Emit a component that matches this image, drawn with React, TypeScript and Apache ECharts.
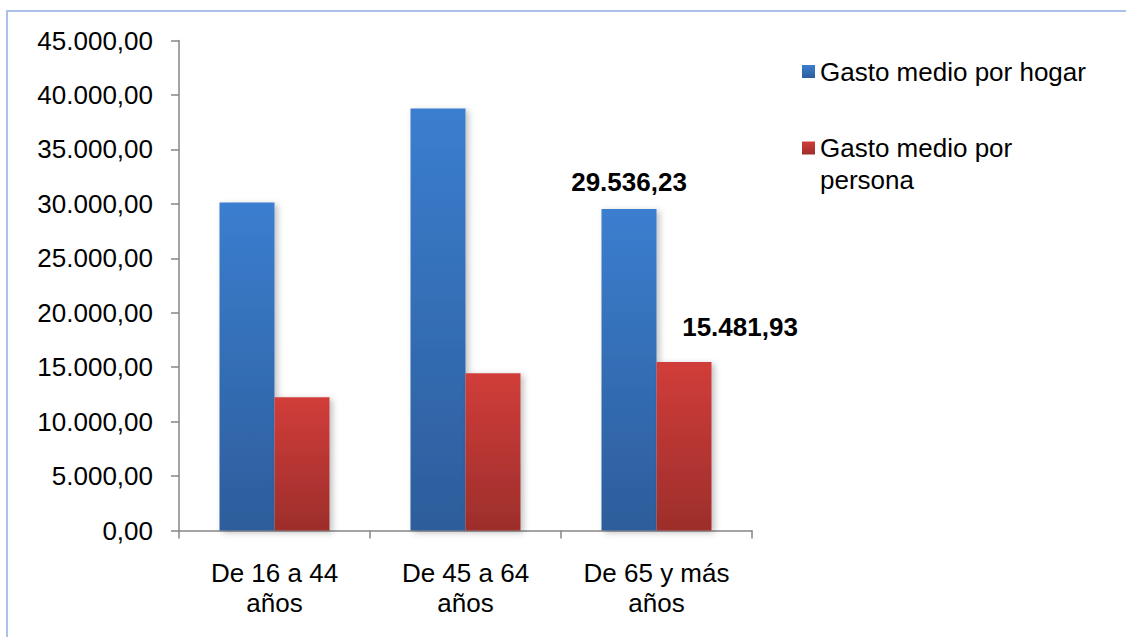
import React, { useEffect, useRef } from "react";
import * as echarts from "echarts";

const categories = ["De 16 a 44\naños", "De 45 a 64\naños", "De 65 y más\naños"];
const seriesNames = ["Gasto medio por hogar", "Gasto medio por persona"];
const hogarValues = [30130, 38750, 29536.23];
const personaValues = [12230, 14430, 15481.93];
const labeledIndex = 2;
const yMin = 0;
const yMax = 45000;
const yInterval = 5000;

const FONT = "'Liberation Sans', Arial, sans-serif";

function fmtEs(v: number): string {
  const fixed = Math.abs(v).toFixed(2);
  const [ip, dp] = fixed.split(".");
  const withDots = ip.replace(/\B(?=(\d{3})+(?!\d))/g, ".");
  return (v < 0 ? "-" : "") + withDots + "," + dp;
}

const blueGrad = () =>
  new echarts.graphic.LinearGradient(0, 0, 0, 1, [
    { offset: 0, color: "#3b7ecf" },
    { offset: 1, color: "#2d5d9b" },
  ]);
const redGrad = () =>
  new echarts.graphic.LinearGradient(0, 0, 0, 1, [
    { offset: 0, color: "#d13d3a" },
    { offset: 1, color: "#9d2e2b" },
  ]);

export default function App() {
  const ref = useRef<HTMLDivElement>(null);
  useEffect(() => {
    if (!ref.current) return;
    const chart = echarts.init(ref.current, undefined, { renderer: "svg" });
    const shadow = {
      shadowBlur: 6,
      shadowColor: "rgba(0,0,0,0.25)",
      shadowOffsetX: 3,
      shadowOffsetY: 2,
    };
    const mkData = (vals: number[], labelCfg: any) =>
      vals.map((v, i) =>
        i === labeledIndex ? { value: v, label: { show: true, ...labelCfg } } : { value: v }
      );
    const labelBase = {
      formatter: (p: any) => fmtEs(p.value),
      fontFamily: FONT,
      fontSize: 26,
      fontWeight: "bold",
      color: "#000",
      position: "top",
    };
    chart.setOption({
      animation: false,
      backgroundColor: "#fff",
      graphic: [
        {
          type: "rect",
          shape: { x: 7, y: 11, width: 1300, height: 800 },
          style: { fill: "none", stroke: "#aac2ea", lineWidth: 2 },
          silent: true,
          z: -10,
        },
      ],
      grid: { left: 179, top: 40.5, width: 573, height: 490 },
      legend: [
        {
          data: [seriesNames[0]],
          orient: "vertical",
          left: 802,
          top: 55.5,
          padding: 0,
          icon: "rect",
          itemWidth: 13,
          itemHeight: 13,
          textStyle: { fontFamily: FONT, fontSize: 26, color: "#000", lineHeight: 32 },
        },
        {
          data: [seriesNames[1]],
          orient: "vertical",
          left: 802,
          top: 100,
          padding: 0,
          icon: "rect",
          itemWidth: 13,
          itemHeight: 13,
          formatter: () => "\nGasto medio por\npersona",
          textStyle: { fontFamily: FONT, fontSize: 26, color: "#000", lineHeight: 32 },
        },
      ],
      xAxis: {
        type: "category",
        data: categories,
        axisLine: { lineStyle: { color: "#868686", width: 1.5 } },
        axisTick: { show: true, length: 8, lineStyle: { color: "#868686", width: 1.5 } },
        axisLabel: {
          fontFamily: FONT,
          fontSize: 26,
          color: "#000",
          lineHeight: 30,
          margin: 27,
          interval: 0,
        },
      },
      yAxis: {
        type: "value",
        min: yMin,
        max: yMax,
        interval: yInterval,
        splitLine: { show: false },
        axisLine: { show: true, lineStyle: { color: "#868686", width: 1.5 } },
        axisTick: { show: true, length: 8, lineStyle: { color: "#868686", width: 1.5 } },
        axisLabel: {
          fontFamily: FONT,
          fontSize: 26,
          color: "#000",
          margin: 26,
          formatter: (v: number) => fmtEs(v),
        },
      },
      series: [
        {
          name: seriesNames[0],
          type: "bar",
          barWidth: 55,
          barGap: "0%",
          itemStyle: { color: blueGrad(), ...shadow },
          data: mkData(hogarValues, { ...labelBase, distance: 14 }),
        },
        {
          name: seriesNames[1],
          type: "bar",
          barWidth: 55,
          barGap: "0%",
          itemStyle: { color: redGrad(), ...shadow },
          data: mkData(personaValues, { ...labelBase, distance: 22, offset: [56, 0] }),
        },
      ],
    });
    return () => chart.dispose();
  }, []);
  return (
    <div
      ref={ref}
      style={{ position: "absolute", left: 0, top: 0, width: 1126, height: 637 }}
    />
  );
}
